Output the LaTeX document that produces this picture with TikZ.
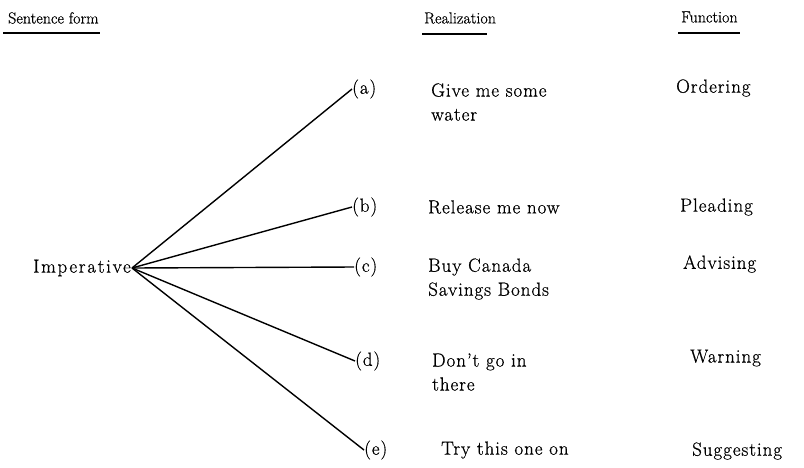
\documentclass[tikz,border=0pt]{standalone}
\usepackage{fontspec}
\setmainfont{Latin Modern Roman}[LetterSpace=5, FakeBold=0.6]
\newcommand\txtsize{\fontsize{19}{24}\selectfont}
\newcommand\hdsize{\fontsize{16}{20}\selectfont\addfontfeature{LetterSpace=0}}

\begin{document}
\begin{tikzpicture}[x=1pt, y=-1pt,
    every node/.style={font=\txtsize, inner sep=0pt},
    lab/.style={anchor=west},
    head/.style={anchor=west, font=\hdsize},
    branch/.style={line width=1.4pt},
    hdline/.style={line width=1.9pt}
]
    \useasboundingbox (0,0) rectangle (804,467);

    % column heads
    \node[head] (form) at (8,18) {Sentence form};
    \node[head] (real) at (424,18) {Realization};
    \node[head] (func) at (681,17) {Function};
    \draw[hdline] (3,33) -- (100,33);
    \draw[hdline] (422,34) -- (487,34);
    \draw[hdline] (678,33) -- (740,33);

    % sentence form
    \node[anchor=east, font=\txtsize\addfontfeature{LetterSpace=9}] (imp) at (131,268) {Imperative};
    \coordinate (root) at (132,268);

    % branches
    \node[lab] (la) at (352,89) {(a)};
    \node[lab] (lb) at (352,207) {(b)};
    \node[lab] (lc) at (354,267) {(c)};
    \node[lab] (ld) at (355,361) {(d)};
    \node[lab] (le) at (364,450) {(e)};
    \foreach \n in {la,lb,lc,ld,le}
        \draw[branch] (root) -- (\n.west);

    % realizations
    \node[lab, align=left] (ra) at (431,102) {Give me some\\water};
    \node[lab] (rb) at (428,207) {Release me now};
    \node[lab, align=left] (rc) at (428,279) {Buy Canada\\Savings Bonds};
    \node[lab, align=left] (rd) at (432,372) {Don't go in\\there};
    \node[lab] (re) at (441,450) {Try this one on};

    % functions
    \node[lab] (fa) at (676,88) {Ordering};
    \node[lab] (fb) at (680,207) {Pleading};
    \node[lab] (fc) at (683,264) {Advising};
    \node[lab] (fd) at (690,358) {Warning};
    \node[lab] (fe) at (692,451) {Suggesting};
\end{tikzpicture}
\end{document}
